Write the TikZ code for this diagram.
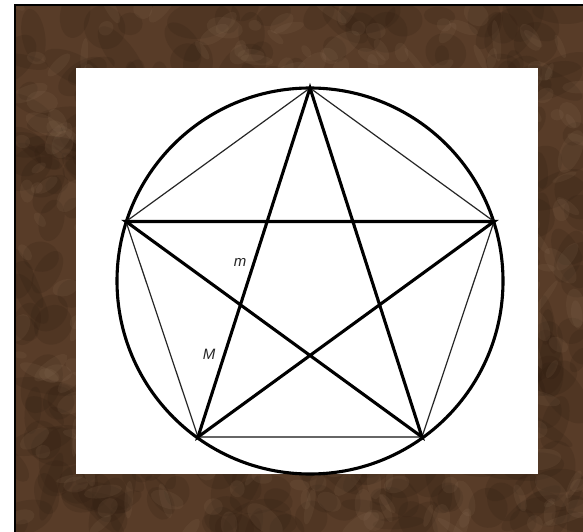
\documentclass[tikz,border=0pt]{standalone}
\usepackage{fontspec}
\setsansfont{Liberation Sans}
\usetikzlibrary{calc}

\definecolor{marbledark}{RGB}{45,28,16}
\definecolor{marblebase}{RGB}{88,60,40}
\definecolor{marblelight}{RGB}{150,122,96}

\tikzset{
  ring/.style={line width=3.1pt, black},
  starline/.style={line width=3.1pt, black},
  sideline/.style={line width=1.2pt, black!85},
  baseline/.style={line width=1.7pt, black!60},
  lbl/.style={font=\sffamily\itshape\fontsize{15}{17}\selectfont, inner sep=0pt, text=black!85},
}

\begin{document}
\begin{tikzpicture}[x=1pt, y=-1pt]
  \useasboundingbox (0,0) rectangle (583,532);

  % === Marble backdrop ===
  \fill[white] (0,0) rectangle (583,532);
  \begin{scope}
    \clip (15,5) rectangle (583,532);
    \fill[marblebase] (15,5) rectangle (583,532);
    \pgfmathsetseed{11}
    \foreach \i in {1,...,450} {
      \pgfmathsetmacro{\px}{15+568*rnd}
      \pgfmathsetmacro{\py}{5+527*rnd}
      \pgfmathsetmacro{\ra}{10+26*rnd}
      \pgfmathsetmacro{\rb}{6+16*rnd}
      \pgfmathsetmacro{\ang}{360*rnd}
      \fill[marbledark, opacity=0.18, rotate around={\ang:(\px,\py)}]
        (\px,\py) ellipse ({\ra} and {\rb});
    }
    \foreach \i in {1,...,380} {
      \pgfmathsetmacro{\px}{15+568*rnd}
      \pgfmathsetmacro{\py}{5+527*rnd}
      \pgfmathsetmacro{\ra}{5+18*rnd}
      \pgfmathsetmacro{\rb}{3+8*rnd}
      \pgfmathsetmacro{\ang}{360*rnd}
      \fill[marblelight, opacity=0.12, rotate around={\ang:(\px,\py)}]
        (\px,\py) ellipse ({\ra} and {\rb});
    }
  \end{scope}
  \draw[line width=1.5pt, black] (15,532) -- (15,5) -- (583,5);

  % === White card ===
  \fill[white] (76,68) rectangle (538,474);

  % === Circle and vertices ===
  \coordinate (O) at (310,281);
  \draw[ring] (O) circle (193);
  \coordinate (top) at ($(O)+(0,-193)$);
  \coordinate (left) at ($(O)+(-184,-59.5)$);
  \coordinate (right) at ($(O)+(184,-59.5)$);
  \coordinate (botL) at ($(O)+(-112,156)$);
  \coordinate (botR) at ($(O)+(112,156)$);

  % === Pentagon sides ===
  \draw[sideline] (top) -- (left) -- (botL);
  \draw[sideline] (top) -- (right) -- (botR);
  \draw[baseline] (botL) -- (botR);

  % === Pentagram ===
  \draw[starline, line join=miter] (top) -- (botL) -- (right) -- (left) -- (botR) -- cycle;

  % === Labels ===
  \node[lbl] (lm) at (240,262) {m};
  \node[lbl] (lM) at (209,354) {M};

\end{tikzpicture}
\end{document}
